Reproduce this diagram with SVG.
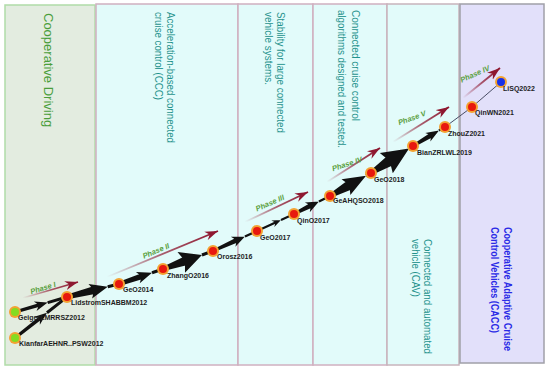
<svg xmlns="http://www.w3.org/2000/svg" width="550" height="372" viewBox="0 0 550 372">
<defs>
<style>
.vt{font-family:"Liberation Sans",Arial,sans-serif;font-size:10.5px;fill:#1f928c}
.lab{font-family:"Liberation Sans",Arial,sans-serif;font-size:7px;font-weight:bold;fill:#1e1e1e}
.ph{font-family:"Liberation Sans",Arial,sans-serif;font-size:7.5px;font-weight:bold;font-style:italic;fill:#5aa040;text-anchor:middle}
.arr{fill:#111}
.ring{fill:#f3a232}
.red{fill:#e8180e}
.grn{fill:#84dc22}
.blu{fill:#1830e8}
.pl{fill:none;stroke:url(#pg);stroke-width:1.8;marker-end:url(#phh)}
.thin{stroke:#4a4e66;stroke-width:1}
</style>
<linearGradient id="pg" x1="0" y1="1" x2="1" y2="0">
<stop offset="0" stop-color="#8e1830" stop-opacity="0"/>
<stop offset="0.5" stop-color="#8e1830" stop-opacity="0.7"/>
<stop offset="1" stop-color="#8e1830"/>
</linearGradient>
<marker id="phh" markerUnits="userSpaceOnUse" markerWidth="14" markerHeight="10" refX="13" refY="5" orient="auto" viewBox="0 0 14 10">
<path d="M0,0.5 L13,5 L0,9.5 L4,5 z" fill="#8e1830"/>
</marker>
</defs>

<g id="panels">
<rect x="5" y="5" width="90" height="360" fill="#e3ece0" stroke="#b0dca8" stroke-width="1.5"/>
<rect x="96" y="4" width="142" height="361" fill="#e2fbfa" stroke="#d0b0c0" stroke-width="1.5"/>
<rect x="238" y="4" width="75" height="361" fill="#e2fbfa" stroke="#d0b0c0" stroke-width="1.5"/>
<rect x="313" y="4" width="74" height="361" fill="#e2fbfa" stroke="#d0b0c0" stroke-width="1.5"/>
<rect x="387" y="4" width="72" height="361" fill="#e2fbfa" stroke="#c8b4bc" stroke-width="1.5"/>
<rect x="460" y="4" width="84" height="359" fill="#e2e0fa" stroke="#a0a0a8" stroke-width="1.5"/>
</g>

<g id="panel-titles">
<text transform="translate(44,13) rotate(90)" style="font-family:'Liberation Sans',Arial,sans-serif;font-size:13px;fill:#4a9e3c">Cooperative Driving</text>
<g transform="translate(167,12) rotate(90)" class="vt">
<text x="0" y="0" textLength="131" lengthAdjust="spacingAndGlyphs">Acceleration-based connected</text>
<text x="0" y="12" textLength="88" lengthAdjust="spacingAndGlyphs">cruise control (CCC)</text>
</g>
<g transform="translate(277,12) rotate(90)" class="vt">
<text x="0" y="0" textLength="121" lengthAdjust="spacingAndGlyphs">Stability for large connected</text>
<text x="0" y="12" textLength="73" lengthAdjust="spacingAndGlyphs">vehicle systems.</text>
</g>
<g transform="translate(352,10) rotate(90)" class="vt" style="font-size:11px">
<text x="0" y="0" textLength="111" lengthAdjust="spacingAndGlyphs">Connected cruise control</text>
<text x="0" y="14" textLength="138" lengthAdjust="spacingAndGlyphs">algorithms designed and tested.</text>
</g>
<g transform="translate(424,239) rotate(90)" class="vt">
<text x="0" y="0" textLength="115" lengthAdjust="spacingAndGlyphs">Connected and automated</text>
<text x="0" y="12" textLength="58" lengthAdjust="spacingAndGlyphs">vehicle (CAV)</text>
</g>
<g transform="translate(504,227) rotate(90)" class="vt" style="fill:#2a2ae6;font-weight:bold">
<text x="0" y="0" textLength="124" lengthAdjust="spacingAndGlyphs">Cooperative Adaptive Cruise</text>
<text x="0" y="13" textLength="106" lengthAdjust="spacingAndGlyphs">Control Vehicles (CACC)</text>
</g>
</g>

<g id="phases">
<line class="pl" x1="23" y1="298" x2="78" y2="282"/>
<line class="pl" x1="107" y1="277" x2="218" y2="231"/>
<line class="pl" x1="245" y1="222" x2="308" y2="192"/>
<line class="pl" x1="327" y1="182" x2="380" y2="148"/>
<line class="pl" x1="393" y1="142" x2="449" y2="107"/>
<line class="pl" x1="463" y1="98" x2="500" y2="68"/>
<text class="ph" transform="translate(43,288) rotate(-17)" y="2.5">Phase I</text>
<text class="ph" transform="translate(156,251) rotate(-23)" y="2.5">Phase II</text>
<text class="ph" transform="translate(270,203) rotate(-24)" y="2.5">Phase III</text>
<text class="ph" transform="translate(347,164) rotate(-18)" y="2.5">Phase IV</text>
<text class="ph" transform="translate(412,118) rotate(-20)" y="2.5">Phase V</text>
<text class="ph" transform="translate(475,74) rotate(-24)" y="2.5">Phase IV</text>
</g>

<g id="connectors">
<path class="arr" transform="translate(15,312) rotate(-16.09)" d="M0,-1.5L26,-1.8V1.8L0,1.5Z M21,-5L34,0L21,5L25,0Z M34,-1.5H54V1.5H34Z"/>
<path class="arr" transform="translate(15,338) rotate(-38.25)" d="M0,-1.5L32.7,-1.8V1.8L0,1.5Z M27.7,-5L40.7,0L27.7,5L31.7,0Z M40.7,-1.5H66V1.5H40.7Z"/>
<path class="arr" transform="translate(67,297) rotate(-14.04)" d="M0,-2.2L29,-4V4L0,2.2Z M24,-7.5L42,0L24,7.5L28,0Z M42,-1.5H53.6V1.5H42Z"/>
<path class="arr" transform="translate(119,284) rotate(-18.82)" d="M0,-2L24.9,-3V3L0,2Z M19.9,-6L34.9,0L19.9,6L23.9,0Z M34.9,-1.5H46.5V1.5H34.9Z"/>
<path class="arr" transform="translate(163,269) rotate(-19.8)" d="M0,-2L24.4,-4.5V4.5L0,2Z M19.4,-11L41.4,0L19.4,11L23.4,0Z M41.4,-1.5H53.1V1.5H41.4Z"/>
<path class="arr" transform="translate(213,251) rotate(-24.44)" d="M0,-1.5L27.1,-2.5V2.5L0,1.5Z M22.1,-5.5L35.1,0L22.1,5.5L26.1,0Z M35.1,-1.2H48.3V1.2H35.1Z"/>
<path class="arr" transform="translate(257,231) rotate(-24.67)" d="M0,-1L21,-1.2V1.2L0,1Z M17.4,-3.5L26.4,0L17.4,3.5L20.4,0Z M26.4,-1H40.7V1H26.4Z"/>
<path class="arr" transform="translate(294,214) rotate(-26.57)" d="M0,-1.5L19.9,-2.5V2.5L0,1.5Z M14.9,-5.5L27.9,0L14.9,5.5L18.9,0Z M27.9,-1.2H40.2V1.2H27.9Z"/>
<path class="arr" transform="translate(330,196) rotate(-29.29)" d="M0,-2L23.3,-5V5L0,2Z M18.3,-9L41.3,0L18.3,9L22.3,0Z M41.3,-1.5H47V1.5H41.3Z"/>
<path class="arr" transform="translate(371,173) rotate(-32.74)" d="M0,-2.2L23.2,-5.5V5.5L0,2.2Z M18.2,-12L45.2,0L18.2,12L22.2,0Z M45.2,-1.5H49.9V1.5H45.2Z"/>
<path class="arr" transform="translate(413,146) rotate(-30.7)" d="M0,-1.5L22.2,-2.5V2.5L0,1.5Z M17.2,-5L30.2,0L17.2,5L21.2,0Z M30.2,-1.2H37.2V1.2H30.2Z"/>
<line class="thin" x1="445" y1="127" x2="472" y2="107"/>
<line class="thin" x1="472" y1="107" x2="501" y2="82"/>
</g>

<g id="n-geiger"><circle class="ring" cx="15" cy="312" r="6"/><circle class="grn" cx="15" cy="312" r="4"/><text class="lab" x="18" y="320">GeigerLMRRSZ2012</text></g>
<g id="n-kianfar"><circle class="ring" cx="15" cy="338" r="6"/><circle class="grn" cx="15" cy="338" r="4"/><text class="lab" x="19" y="346">KianfarAEHNR..PSW2012</text></g>
<g id="n-lidstrom"><circle class="ring" cx="67" cy="297" r="6"/><circle class="red" cx="67" cy="297" r="4"/><text class="lab" x="71" y="305">LidstromSHABBM2012</text></g>
<g id="n-geo2014"><circle class="ring" cx="119" cy="284" r="6"/><circle class="red" cx="119" cy="284" r="4"/><text class="lab" x="123" y="292">GeO2014</text></g>
<g id="n-zhango2016"><circle class="ring" cx="163" cy="269" r="6"/><circle class="red" cx="163" cy="269" r="4"/><text class="lab" x="167" y="278">ZhangO2016</text></g>
<g id="n-orosz2016"><circle class="ring" cx="213" cy="251" r="6"/><circle class="red" cx="213" cy="251" r="4"/><text class="lab" x="217" y="259">Orosz2016</text></g>
<g id="n-geo2017"><circle class="ring" cx="257" cy="231" r="6"/><circle class="red" cx="257" cy="231" r="4"/><text class="lab" x="260" y="240">GeO2017</text></g>
<g id="n-qino2017"><circle class="ring" cx="294" cy="214" r="6"/><circle class="red" cx="294" cy="214" r="4"/><text class="lab" x="297" y="223">QinO2017</text></g>
<g id="n-geahqso2018"><circle class="ring" cx="330" cy="196" r="6"/><circle class="red" cx="330" cy="196" r="4"/><text class="lab" x="333" y="203">GeAHQSO2018</text></g>
<g id="n-geo2018"><circle class="ring" cx="371" cy="173" r="6"/><circle class="red" cx="371" cy="173" r="4"/><text class="lab" x="374" y="182">GeO2018</text></g>
<g id="n-bian2019"><circle class="ring" cx="413" cy="146" r="6"/><circle class="red" cx="413" cy="146" r="4"/><text class="lab" x="417" y="155">BianZRLWL2019</text></g>
<g id="n-zhouz2021"><circle class="ring" cx="445" cy="127" r="6"/><circle class="red" cx="445" cy="127" r="4"/><text class="lab" x="448" y="136">ZhouZ2021</text></g>
<g id="n-qinwn2021"><circle class="ring" cx="472" cy="107" r="6"/><circle class="red" cx="472" cy="107" r="4"/><text class="lab" x="475" y="115">QinWN2021</text></g>
<g id="n-lisq2022"><circle class="ring" cx="501" cy="82" r="6"/><circle class="blu" cx="501" cy="82" r="4"/><text class="lab" x="503" y="91">LiSQ2022</text></g>
</svg>
